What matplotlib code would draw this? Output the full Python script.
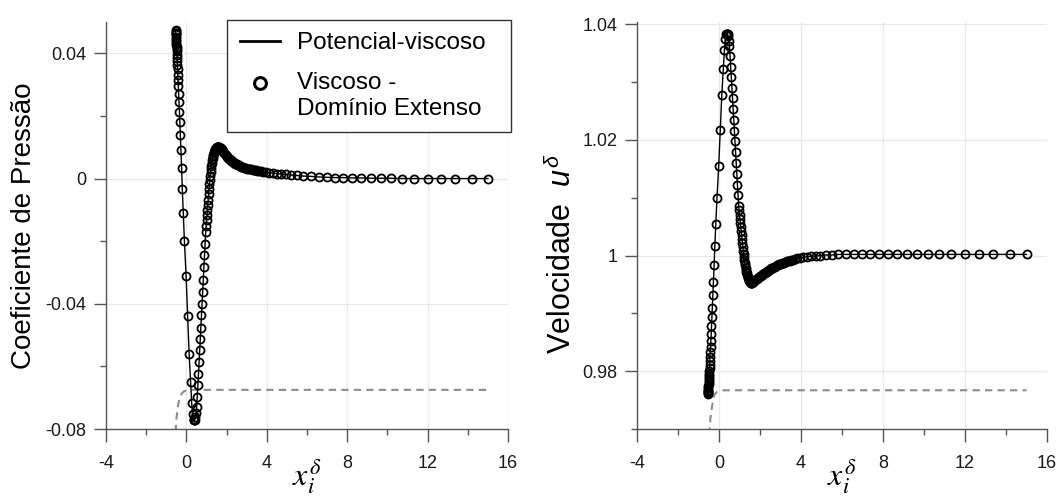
import matplotlib
matplotlib.use('Agg')
import matplotlib.pyplot as plt
from matplotlib.lines import Line2D
from matplotlib.legend_handler import HandlerLine2D
from matplotlib.ticker import MultipleLocator, FuncFormatter

plt.rcParams['font.family'] = ['Liberation Sans', 'DejaVu Sans']
plt.rcParams['axes.unicode_minus'] = False
plt.rcParams['mathtext.fontset'] = 'custom'
plt.rcParams['mathtext.it'] = 'Liberation Sans:italic'
plt.rcParams['mathtext.rm'] = 'Liberation Sans'

# posicoes x (malha comum aos dois graficos)
x = [-0.537, -0.535, -0.531, -0.528, -0.525, -0.519, -0.513, -0.507, -0.501, -0.496,
     -0.490, -0.484, -0.478, -0.470, -0.463, -0.456, -0.446, -0.437, -0.424, -0.410,
     -0.395, -0.380, -0.366, -0.346, -0.327, -0.302, -0.273, -0.239, -0.205, -0.156,
     -0.098, -0.015, 0.063, 0.137, 0.210, 0.263, 0.307, 0.361,
     0.38, 0.40, 0.42, 0.45, 0.48, 0.51, 0.54, 0.57, 0.60, 0.63, 0.66, 0.69, 0.72,
     0.75, 0.78, 0.81, 0.84, 0.87, 0.90, 0.93, 0.96,
     0.98, 1.00, 1.02, 1.04, 1.06, 1.08, 1.10, 1.12, 1.14, 1.16, 1.18, 1.20, 1.22,
     1.24, 1.26, 1.28, 1.30, 1.32, 1.34, 1.36, 1.38, 1.40, 1.42, 1.44, 1.46, 1.48,
     1.50, 1.52, 1.54, 1.56, 1.58, 1.60,
     1.64, 1.68, 1.72, 1.76, 1.80, 1.84, 1.88, 1.92, 1.96, 2.00, 2.04, 2.08, 2.12,
     2.16, 2.20, 2.24, 2.28, 2.32, 2.36, 2.40, 2.44, 2.48, 2.52, 2.56, 2.60,
     2.67, 2.74, 2.81, 2.88, 2.95, 3.02, 3.09, 3.16, 3.23, 3.30, 3.37, 3.44, 3.51,
     3.59, 3.69, 3.81, 3.95, 4.11, 4.29, 4.49, 4.71, 4.95, 5.21, 5.49, 5.79,
     6.19, 6.59, 6.99, 7.39, 7.80, 8.26, 8.70, 9.18, 9.67, 10.19, 10.73, 11.34,
     12.00, 12.68, 13.38, 14.19, 15.00]

# coeficiente de pressao
cp = [0.0474, 0.0470, 0.0466, 0.0463, 0.0461, 0.0453, 0.0447, 0.0439, 0.0433, 0.0425,
      0.0420, 0.0414, 0.0406, 0.0396, 0.0386, 0.0376, 0.0363, 0.0349, 0.0331, 0.0315,
      0.0294, 0.0270, 0.0243, 0.0213, 0.0179, 0.0138, 0.0090, 0.0034, -0.0032, -0.0110,
      -0.0201, -0.0312, -0.0439, -0.0562, -0.0650, -0.0716, -0.0753, -0.0768,
      -0.0772, -0.0772, -0.0770, -0.0763, -0.0750, -0.0730, -0.0697, -0.0661, -0.0625,
      -0.0586, -0.0549, -0.0511, -0.0476, -0.0437, -0.0400, -0.0361, -0.0323, -0.0284,
      -0.0245, -0.0209, -0.0171,
      -0.0150, -0.0134, -0.0118, -0.0101, -0.0084, -0.0067, -0.0050, -0.0034, -0.0019,
      -0.0005, 0.0008, 0.0020, 0.0031, 0.0041, 0.0050, 0.0058, 0.0065, 0.0071, 0.0076,
      0.0080, 0.0084, 0.0087, 0.0090, 0.0093, 0.0095, 0.0097, 0.0099, 0.0100, 0.0101,
      0.0102, 0.0102, 0.0102,
      0.0101, 0.0099, 0.0096, 0.0093, 0.0089, 0.0085, 0.0081, 0.0078, 0.0075, 0.0072,
      0.0069, 0.0066, 0.0064, 0.0061, 0.0059, 0.0057, 0.0055, 0.0053, 0.0051, 0.0049,
      0.0048, 0.0046, 0.0045, 0.0043, 0.0042,
      0.0040, 0.0038, 0.0037, 0.0035, 0.0034, 0.0032, 0.0031, 0.0030, 0.0029, 0.0028,
      0.0027, 0.0026, 0.0025,
      0.0024, 0.0023, 0.0022, 0.0020, 0.0019, 0.0017, 0.0016, 0.0014, 0.0013, 0.0011,
      0.0010, 0.0008,
      0.0007, 0.0005, 0.0004, 0.0003, 0.0003, 0.0002, 0.0002, 0.0001, 0.0001, 0.0001,
      0.0000, 0.0000, 0.0000, 0.0000, 0.0000, 0.0000, 0.0000]

# velocidade u
u = [0.9760, 0.9762, 0.9764, 0.9766, 0.9767, 0.9771, 0.9774, 0.9778, 0.9781, 0.9785,
     0.9788, 0.9791, 0.9795, 0.9800, 0.9805, 0.9810, 0.9817, 0.9824, 0.9833, 0.9841,
     0.9852, 0.9864, 0.9878, 0.9893, 0.9910, 0.9931, 0.9955, 0.9983, 1.0016, 1.0055,
     1.0100, 1.0155, 1.0217, 1.0278, 1.0322, 1.0355, 1.0374, 1.0383,
     1.0384, 1.0384, 1.0383, 1.0379, 1.0372, 1.0362, 1.0345, 1.0327, 1.0309, 1.0290,
     1.0272, 1.0253, 1.0235, 1.0216, 1.0198, 1.0179, 1.0160, 1.0141, 1.0122, 1.0104,
     1.0085,
     1.0078, 1.0071, 1.0064, 1.0057, 1.0050, 1.0043, 1.0036, 1.0029, 1.0022, 1.0015,
     1.0008, 1.0002, 0.9997, 0.9992, 0.9987, 0.9983, 0.9979, 0.9975, 0.9972, 0.9969,
     0.9966, 0.9963, 0.9961, 0.9959, 0.9957, 0.9956, 0.9955, 0.9954, 0.9953, 0.9953,
     0.9953, 0.9953,
     0.9954, 0.9955, 0.9956, 0.9957, 0.9959, 0.9960, 0.9961, 0.9962, 0.9963, 0.9964,
     0.9965, 0.9966, 0.9967, 0.9968, 0.9969, 0.9970, 0.9971, 0.9972, 0.9973, 0.9974,
     0.9975, 0.9976, 0.9977, 0.9978, 0.9978,
     0.9980, 0.9981, 0.9983, 0.9984, 0.9985, 0.9986, 0.9987, 0.9988, 0.9989, 0.9990,
     0.9991, 0.9991, 0.9992,
     0.9993, 0.9994, 0.9995, 0.9996, 0.9997, 0.9998, 0.9999, 0.9999, 1.0000, 1.0001,
     1.0001, 1.0002,
     1.0002, 1.0002, 1.0002, 1.0002, 1.0002, 1.0002, 1.0002, 1.0002, 1.0002, 1.0002,
     1.0002, 1.0002, 1.0002, 1.0002, 1.0002, 1.0002, 1.0002]

# curvas tracejadas (cinza)
xd_cp = [-0.54, -0.50, -0.45, -0.39, -0.33, -0.26, -0.20, -0.10, 0.05, 0.20, 15.0]
cp_d = [-0.0810, -0.0770, -0.0740, -0.0716, -0.0700, -0.0690, -0.0684, -0.0679,
        -0.0676, -0.0675, -0.0675]
xd_u = [-0.47, -0.42, -0.37, -0.29, -0.21, -0.10, 0.05, 0.20, 15.0]
u_d = [0.9690, 0.9718, 0.9731, 0.9751, 0.9760, 0.9764, 0.9766, 0.9767, 0.9767]

fmt = FuncFormatter(lambda v, p: '%g' % round(v, 6))


class HandlerAcima(HandlerLine2D):
    # marcador alinhado com a primeira linha do rotulo
    def create_artists(self, legend, orig_handle, xdescent, ydescent, width, height,
                       fontsize, trans):
        arts = super().create_artists(legend, orig_handle, xdescent, ydescent, width,
                                      height, fontsize, trans)
        for a in arts:
            a.set_ydata([yy + 0.55 * fontsize for yy in a.get_ydata()])
        return arts


def estilo(ax, ymaj, ymin):
    for s in ['top', 'right']:
        ax.spines[s].set_visible(False)
    for s in ['left', 'bottom']:
        ax.spines[s].set_color('#555555')
        ax.spines[s].set_linewidth(1.0)
    ax.set_xlim(-4, 16)
    ax.xaxis.set_major_locator(MultipleLocator(4))
    ax.xaxis.set_minor_locator(MultipleLocator(2))
    ax.yaxis.set_major_locator(MultipleLocator(ymaj))
    ax.yaxis.set_minor_locator(MultipleLocator(ymin))
    ax.xaxis.set_major_formatter(fmt)
    ax.yaxis.set_major_formatter(fmt)
    ax.tick_params(which='major', direction='out', length=9, width=1.0,
                   color='#555555', labelsize=13, pad=5, labelcolor='#1a1a1a')
    ax.tick_params(axis='x', which='major', pad=10)
    ax.tick_params(which='minor', direction='out', length=4.5, width=1.0,
                   color='#555555')
    ax.grid(True, which='major', color='#e9e9e9', lw=0.9)
    ax.set_axisbelow(True)
    ax.set_xlabel(r'$x_i^{\delta}$', fontsize=23, math_fontfamily='stix')
    ax.xaxis.set_label_coords(0.5, -0.07)


fig = plt.figure(figsize=(10.56, 4.99), dpi=100)
ax1 = fig.add_axes([106 / 1056, 70 / 499, 402 / 1056, 407 / 499])
ax2 = fig.add_axes([637 / 1056, 70 / 499, 410 / 1056, 407 / 499])

# Coeficiente de pressao
ax1.plot(xd_cp, cp_d, color='#8c8c8c', lw=1.5, ls=(0, (3.5, 2.5)))
ax1.plot(x, cp, color='black', lw=1.0)
ax1.plot(x, cp, ls='none', marker='o', ms=5.8, mfc='none', mec='black', mew=1.3)
estilo(ax1, 0.04, 0.02)
ax1.set_ylim(-0.08, 0.05)
ax1.set_ylabel('Coeficiente de Pressão', fontsize=20, labelpad=6)

h_lin = Line2D([], [], color='black', lw=2.0)
h_mk = Line2D([], [], ls='none', marker='o', ms=8.5, mfc='none', mec='black', mew=2.2)
leg = ax1.legend([h_lin, h_mk], ['Potencial-viscoso  ', 'Viscoso -\nDomínio Extenso'],
                 handler_map={h_mk: HandlerAcima()},
                 loc='upper right', bbox_to_anchor=(511 / 1056, 1 - 20 / 499),
                 bbox_transform=fig.transFigure, borderaxespad=0, fontsize=17.5,
                 fancybox=False, edgecolor='#333333', framealpha=1,
                 handlelength=1.65, handletextpad=0.7, labelspacing=0.75,
                 borderpad=0.5)
leg.get_frame().set_linewidth(1.0)

# Velocidade
ax2.plot(xd_u, u_d, color='#8c8c8c', lw=1.5, ls=(0, (3.5, 2.5)))
ax2.plot(x, u, color='black', lw=1.0)
ax2.plot(x, u, ls='none', marker='o', ms=5.8, mfc='none', mec='black', mew=1.3)
estilo(ax2, 0.02, 0.01)
ax2.set_ylim(0.97, 1.0404)
ax2.set_ylabel(r'Velocidade  $u^{\delta}$', fontsize=22)
ax2.yaxis.set_label_coords(-0.144, 0.43)

fig.savefig('out.png', dpi=100)
